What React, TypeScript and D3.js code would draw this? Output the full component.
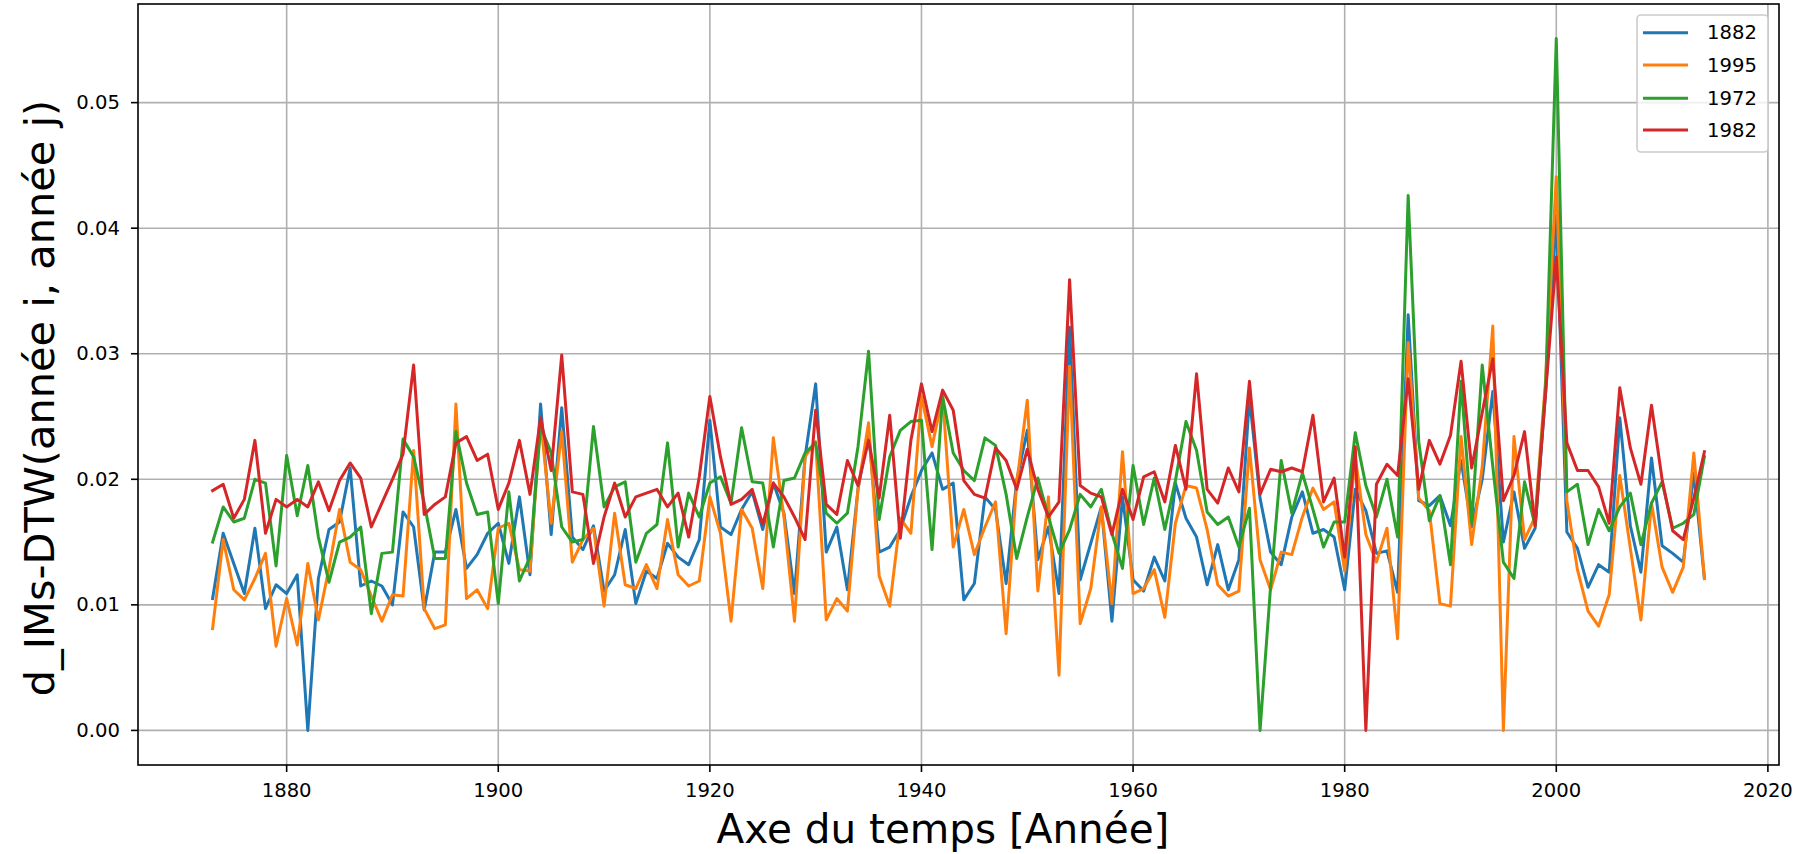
import React from 'react';
import * as d3 from 'd3';

const years: number[] = d3.range(1873, 2015);

const blue1882: number[] = [
  0.0105, 0.0157, 0.0133, 0.0109, 0.0161, 0.0097, 0.0116, 0.0109, 0.0124, 0.0000,
  0.0121, 0.0160, 0.0166, 0.0209, 0.0115, 0.0119, 0.0115, 0.0100, 0.0174, 0.0162,
  0.0096, 0.0142, 0.0142, 0.0176, 0.0129, 0.0140, 0.0157, 0.0165, 0.0133, 0.0186,
  0.0124, 0.0260, 0.0156, 0.0257, 0.0154, 0.0144, 0.0163, 0.0111, 0.0124, 0.0160,
  0.0101, 0.0127, 0.0121, 0.0149, 0.0138, 0.0132, 0.0152, 0.0247, 0.0162, 0.0156,
  0.0176, 0.0190, 0.0160, 0.0197, 0.0173, 0.0109, 0.0218, 0.0276, 0.0142, 0.0162,
  0.0112, 0.0192, 0.0238, 0.0142, 0.0146, 0.0160, 0.0186, 0.0207, 0.0221, 0.0192,
  0.0197, 0.0104, 0.0117, 0.0186, 0.0176, 0.0117, 0.0199, 0.0239, 0.0136, 0.0162,
  0.0109, 0.0321, 0.0120, 0.0149, 0.0178, 0.0087, 0.0186, 0.0120, 0.0111, 0.0138,
  0.0119, 0.0197, 0.0169, 0.0154, 0.0116, 0.0148, 0.0112, 0.0136, 0.0265, 0.0185,
  0.0142, 0.0132, 0.0170, 0.0190, 0.0157, 0.0160, 0.0154, 0.0112, 0.0192, 0.0175,
  0.0141, 0.0143, 0.0110, 0.0331, 0.0183, 0.0179, 0.0187, 0.0163, 0.0215, 0.0162,
  0.0200, 0.0270, 0.0150, 0.0190, 0.0145, 0.0161, 0.0270, 0.0410, 0.0158, 0.0145,
  0.0114, 0.0132, 0.0126, 0.0249, 0.0163, 0.0126, 0.0217, 0.0147, 0.0141, 0.0134,
  0.0205, 0.0121,
];

const orange1995: number[] = [
  0.0081, 0.0152, 0.0112, 0.0104, 0.0121, 0.0141, 0.0067, 0.0105, 0.0068, 0.0133,
  0.0088, 0.0129, 0.0176, 0.0134, 0.0128, 0.0107, 0.0087, 0.0108, 0.0107, 0.0223,
  0.0097, 0.0081, 0.0084, 0.0260, 0.0105, 0.0112, 0.0097, 0.0161, 0.0165, 0.0128,
  0.0127, 0.0247, 0.0165, 0.0238, 0.0134, 0.0152, 0.0161, 0.0099, 0.0173, 0.0116,
  0.0113, 0.0132, 0.0113, 0.0168, 0.0124, 0.0115, 0.0119, 0.0186, 0.0157, 0.0087,
  0.0176, 0.0161, 0.0113, 0.0233, 0.0170, 0.0087, 0.0218, 0.0230, 0.0088, 0.0105,
  0.0095, 0.0192, 0.0245, 0.0123, 0.0099, 0.0169, 0.0157, 0.0266, 0.0226, 0.0266,
  0.0146, 0.0176, 0.0140, 0.0162, 0.0182, 0.0077, 0.0197, 0.0263, 0.0111, 0.0186,
  0.0044, 0.0290, 0.0085, 0.0113, 0.0178, 0.0101, 0.0222, 0.0109, 0.0113, 0.0128,
  0.0090, 0.0165, 0.0195, 0.0193, 0.0160, 0.0116, 0.0107, 0.0111, 0.0225, 0.0136,
  0.0112, 0.0142, 0.0140, 0.0170, 0.0193, 0.0176, 0.0182, 0.0127, 0.0218, 0.0156,
  0.0134, 0.0161, 0.0073, 0.0309, 0.0185, 0.0175, 0.0101, 0.0099, 0.0234, 0.0148,
  0.0210, 0.0322, 0.0000, 0.0234, 0.0152, 0.0170, 0.0280, 0.0441, 0.0183, 0.0128,
  0.0095, 0.0083, 0.0108, 0.0203, 0.0145, 0.0088, 0.0181, 0.0130, 0.0110, 0.0130,
  0.0221, 0.0121,
];

const green1972: number[] = [
  0.0150, 0.0178, 0.0166, 0.0169, 0.0200, 0.0197, 0.0131, 0.0219, 0.0171, 0.0211,
  0.0154, 0.0118, 0.0150, 0.0154, 0.0162, 0.0093, 0.0141, 0.0142, 0.0232, 0.0218,
  0.0181, 0.0137, 0.0137, 0.0238, 0.0197, 0.0172, 0.0174, 0.0101, 0.0190, 0.0119,
  0.0138, 0.0242, 0.0221, 0.0162, 0.0150, 0.0152, 0.0242, 0.0178, 0.0194, 0.0198,
  0.0134, 0.0157, 0.0164, 0.0229, 0.0146, 0.0189, 0.0170, 0.0197, 0.0202, 0.0181,
  0.0241, 0.0198, 0.0197, 0.0146, 0.0199, 0.0201, 0.0221, 0.0229, 0.0173, 0.0165,
  0.0173, 0.0226, 0.0302, 0.0168, 0.0218, 0.0239, 0.0246, 0.0247, 0.0144, 0.0266,
  0.0221, 0.0207, 0.0199, 0.0233, 0.0227, 0.0188, 0.0137, 0.0170, 0.0201, 0.0170,
  0.0141, 0.0160, 0.0188, 0.0178, 0.0192, 0.0157, 0.0129, 0.0211, 0.0164, 0.0201,
  0.0160, 0.0199, 0.0246, 0.0223, 0.0174, 0.0164, 0.0170, 0.0146, 0.0177, 0.0000,
  0.0115, 0.0215, 0.0173, 0.0205, 0.0176, 0.0146, 0.0166, 0.0166, 0.0237, 0.0195,
  0.0170, 0.0200, 0.0154, 0.0426, 0.0230, 0.0167, 0.0187, 0.0132, 0.0278, 0.0165,
  0.0291, 0.0210, 0.0134, 0.0121, 0.0198, 0.0163, 0.0275, 0.0551, 0.0190, 0.0196,
  0.0148, 0.0176, 0.0159, 0.0178, 0.0189, 0.0148, 0.0181, 0.0198, 0.0161, 0.0165,
  0.0172, 0.0218,
];

const red1982: number[] = [
  0.0191, 0.0196, 0.0169, 0.0184, 0.0231, 0.0157, 0.0184, 0.0178, 0.0184, 0.0178,
  0.0198, 0.0175, 0.0199, 0.0213, 0.0201, 0.0162, 0.0181, 0.0200, 0.0220, 0.0291,
  0.0172, 0.0180, 0.0186, 0.0229, 0.0234, 0.0215, 0.0220, 0.0176, 0.0197, 0.0231,
  0.0188, 0.0249, 0.0207, 0.0299, 0.0190, 0.0188, 0.0133, 0.0170, 0.0197, 0.0170,
  0.0186, 0.0189, 0.0192, 0.0178, 0.0189, 0.0154, 0.0202, 0.0266, 0.0218, 0.0180,
  0.0184, 0.0192, 0.0164, 0.0197, 0.0186, 0.0170, 0.0152, 0.0255, 0.0180, 0.0172,
  0.0215, 0.0195, 0.0231, 0.0185, 0.0251, 0.0153, 0.0231, 0.0276, 0.0238, 0.0271,
  0.0255, 0.0199, 0.0188, 0.0185, 0.0225, 0.0215, 0.0192, 0.0224, 0.0192, 0.0170,
  0.0182, 0.0359, 0.0195, 0.0189, 0.0186, 0.0156, 0.0192, 0.0168, 0.0202, 0.0206,
  0.0182, 0.0227, 0.0192, 0.0284, 0.0192, 0.0181, 0.0209, 0.0190, 0.0278, 0.0188,
  0.0208, 0.0206, 0.0209, 0.0206, 0.0251, 0.0182, 0.0201, 0.0138, 0.0226, 0.0000,
  0.0196, 0.0212, 0.0203, 0.0280, 0.0192, 0.0231, 0.0212, 0.0235, 0.0294, 0.0209,
  0.0253, 0.0296, 0.0183, 0.0203, 0.0238, 0.0163, 0.0270, 0.0377, 0.0229, 0.0207,
  0.0207, 0.0194, 0.0165, 0.0273, 0.0225, 0.0196, 0.0259, 0.0200, 0.0159, 0.0152,
  0.0185, 0.0222,
];

const seriesNames: string[] = ['1882', '1995', '1972', '1982'];
const seriesColors: string[] = ['#1f77b4', '#ff7f0e', '#2ca02c', '#d62728'];
const seriesValues: number[][] = [blue1882, orange1995, green1972, red1982];

const xTicks: number[] = [1880, 1900, 1920, 1940, 1960, 1980, 2000, 2020];
const yTicks: number[] = [0, 0.01, 0.02, 0.03, 0.04, 0.05];

const xLabel = 'Axe du temps [Année]';
const yLabel = 'd_IMs-DTW(année i, année j)';

export default function App() {
  const W = 1810;
  const H = 854;
  const left = 138;
  const right = 1779;
  const top = 4;
  const bottom = 765;

  const x = d3.scaleLinear().domain([1865.95, 2021.05]).range([left, right]);
  const y = d3.scaleLinear().domain([-0.002755, 0.057855]).range([bottom, top]);
  const line = d3
    .line<number>()
    .x((_, i) => x(years[i]))
    .y((d) => y(d));
  const fmt = d3.format('.2f');

  const legendX = 1637;
  const legendY = 15;
  const legendRows = [32.7, 65, 98.3, 130];

  return (
    <div style={{ position: 'absolute', left: 0, top: 0 }}>
      <svg width={W} height={H} style={{ display: 'block' }} fontFamily="'DejaVu Sans', sans-serif">
        <rect x={0} y={0} width={W} height={H} fill="#ffffff" />
        <defs>
          <clipPath id="plotclip">
            <rect x={left} y={top} width={right - left} height={bottom - top} />
          </clipPath>
        </defs>
        <g stroke="#b0b0b0" strokeWidth={1.6}>
          {xTicks.map((t) => (
            <line key={'gx' + t} x1={x(t)} x2={x(t)} y1={top} y2={bottom} />
          ))}
          {yTicks.map((t) => (
            <line key={'gy' + t} x1={left} x2={right} y1={y(t)} y2={y(t)} />
          ))}
        </g>
        <g clipPath="url(#plotclip)" fill="none" strokeWidth={3} strokeLinejoin="round" strokeLinecap="square">
          {seriesValues.map((vals, k) => (
            <path key={seriesNames[k]} d={line(vals) || ''} stroke={seriesColors[k]} />
          ))}
        </g>
        <rect x={left} y={top} width={right - left} height={bottom - top} fill="none" stroke="#000" strokeWidth={1.6} />
        <g>
          {xTicks.map((t) => (
            <g key={'xt' + t}>
              <line x1={x(t)} x2={x(t)} y1={bottom} y2={bottom + 7} stroke="#000" strokeWidth={1.6} />
              <text x={x(t)} y={797} textAnchor="middle" fontSize={19.6} fill="#000">
                {t}
              </text>
            </g>
          ))}
        </g>
        <g>
          {yTicks.map((t) => (
            <g key={'yt' + t}>
              <line x1={left - 7} x2={left} y1={y(t)} y2={y(t)} stroke="#000" strokeWidth={1.6} />
              <text x={120} y={y(t)} textAnchor="end" dominantBaseline="central" fontSize={19.6} fill="#000">
                {fmt(t)}
              </text>
            </g>
          ))}
        </g>
        <text x={943} y={843} textAnchor="middle" fontSize={40.5} fill="#000">
          {xLabel}
        </text>
        <text
          transform={`translate(54, 398) rotate(-90)`}
          textAnchor="middle"
          fontSize={41.5}
          fill="#000"
        >
          {yLabel}
        </text>
        <g>
          <rect x={legendX} y={legendY} width={131} height={137} rx={4} ry={4} fill="#ffffff" fillOpacity={0.8} stroke="#cccccc" strokeWidth={1.6} />
          {seriesNames.map((n, k) => (
            <g key={'lg' + n}>
              <line x1={1643} x2={1688} y1={legendRows[k]} y2={legendRows[k]} stroke={seriesColors[k]} strokeWidth={3} />
              <text x={1707} y={legendRows[k]} dominantBaseline="central" fontSize={19.6} fill="#000">
                {n}
              </text>
            </g>
          ))}
        </g>
      </svg>
    </div>
  );
}
